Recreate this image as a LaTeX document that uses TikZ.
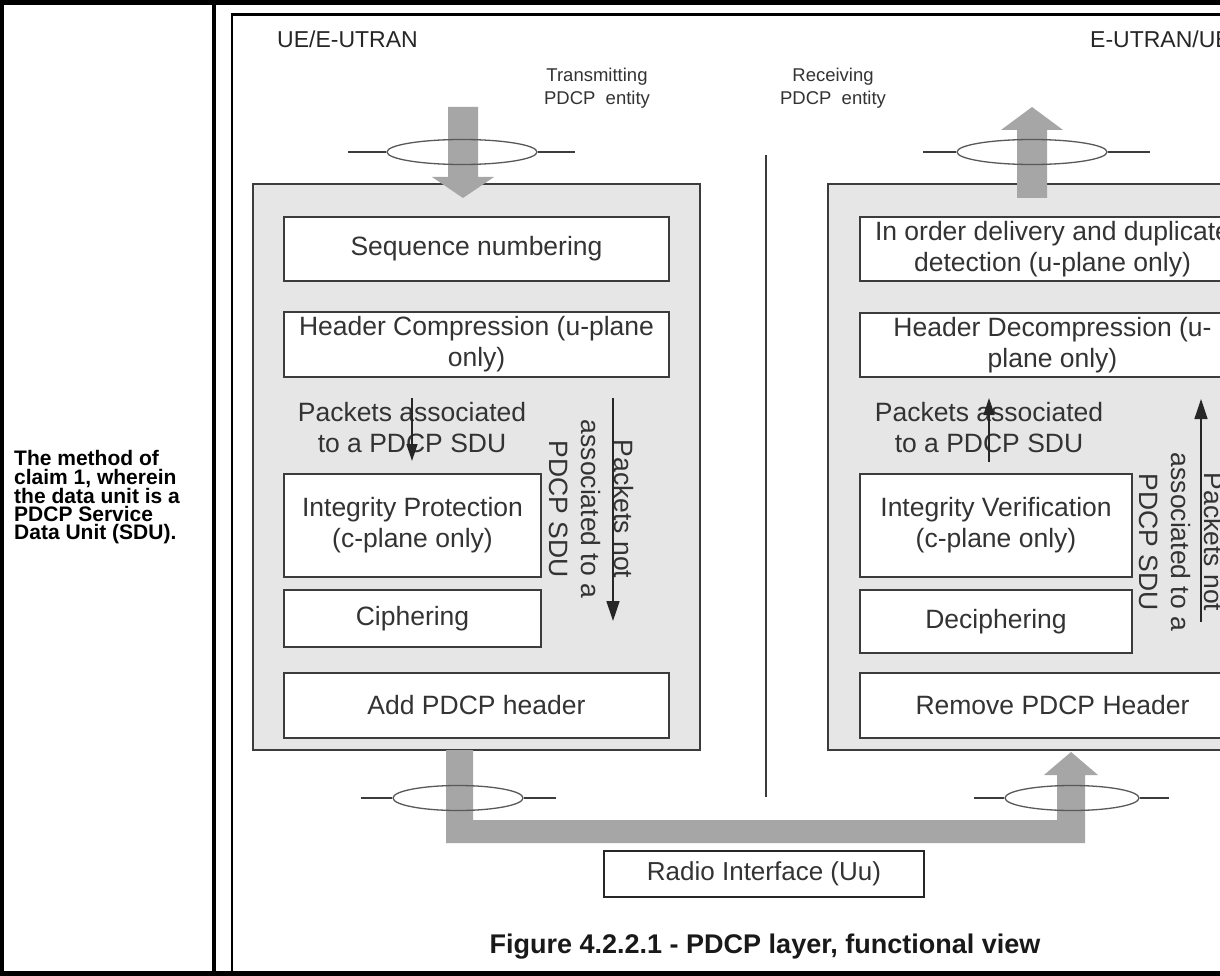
\documentclass[tikz,border=0pt]{standalone}
\usepackage{fontspec}
\setmainfont{Liberation Sans}
\usetikzlibrary{arrows.meta,shapes.geometric}
\definecolor{txt}{HTML}{333333}
\definecolor{edge}{HTML}{3C3C3C}
\definecolor{panel}{HTML}{E6E6E6}
\definecolor{flow}{HTML}{A6A6A6}
\begin{document}
\begin{tikzpicture}[x=1pt,y=-1pt,
  lbl/.style={text=txt, font=\fontsize{26.5}{31}\selectfont, align=center, inner sep=0pt},
  fbox/.style={lbl, draw=edge, line width=1.8pt, fill=white},
  panelbox/.style={draw=edge, line width=1.8pt, fill=panel, inner sep=0pt},
  flowshape/.style={fill=flow, draw=none},
  ring/.style={draw=edge!85, line width=1.3pt, ellipse, minimum width=#1, minimum height=25pt, inner sep=0pt},
  wire/.style={draw=edge, line width=1.3pt},
  thinarrow/.style={draw=black!85, line width=1.4pt, -{Triangle[length=17pt,width=11pt]}},
  bigarrow/.style={draw=black!85, line width=1.4pt, -{Triangle[length=20pt,width=13pt]}},
  small/.style={text=txt, font=\fontsize{18.5}{23}\selectfont, align=center, inner sep=0pt},
  head/.style={text=black!85, font=\fontsize{23}{26}\selectfont, inner sep=0pt},
  vlabel/.style={text=txt, font=\fontsize{26.5}{32.5}\selectfont, align=center, inner sep=0pt, rotate=-90},
  frame/.style={draw=black, line cap=rect}
]
\useasboundingbox (0,0) rectangle (1220,976);
\clip (0,0) rectangle (1220,976);
\fill[white] (0,0) rectangle (1220,976);

% outer table frame
\draw[frame, line width=5pt] (0,2.5) -- (1220,2.5);
\draw[frame, line width=5pt] (0,973.5) -- (1220,973.5);
\draw[frame, line width=4pt] (2,0) -- (2,976);
\draw[frame, line width=4.5pt] (214,0) -- (214,976);
\draw[frame, line width=2.5pt] (232,976) -- (232,14.5) -- (1220,14.5);

% claim text
\node[anchor=west, align=left, inner sep=0pt, font=\bfseries\fontsize{21}{18.2}\selectfont] (claim) at (14,497.5)
  {The method of\\claim 1, wherein\\the data unit is a\\PDCP Service\\Data Unit (SDU).};

% headings
\node[head, anchor=west] (ue) at (277,39) {UE/E-UTRAN};
\node[head, anchor=west] (eu) at (1090,39) {E-UTRAN/UE};
\node[small] (tx) at (597,88) {Transmitting\\PDCP~~entity};
\node[small] (rx) at (833,88) {Receiving\\PDCP~~entity};

% divider
\coordinate (dtop) at (766,155);
\coordinate (dbot) at (766,797);
\draw[wire] (dtop) -- (dbot);

% panels
\node[panelbox, minimum width=447pt, minimum height=566pt] (lp) at (476.5,467) {};
\node[panelbox, minimum width=447pt, minimum height=566pt] (rp) at (1051.5,467) {};

% flow arrows (gray)
\fill[flowshape] (448,107) -- (478,107) -- (478,177) -- (494,177) -- (463,198) -- (432,177) -- (448,177) -- cycle;
\fill[flowshape] (1017,198) -- (1047,198) -- (1047,130) -- (1063,130) -- (1032,107) -- (1001,130) -- (1017,130) -- cycle;
\fill[flowshape] (446,750) -- (446,843) -- (1085,843) -- (1085,775) -- (1098,775) -- (1071,752) -- (1044,775) -- (1057,775) -- (1057,820) -- (473,820) -- (473,750) -- cycle;

% rings
\node[ring=150pt] (r1) at (462,152) {};
\node[ring=150pt] (r2) at (1032,152) {};
\node[ring=130pt] (r3) at (458,798) {};
\node[ring=134pt] (r4) at (1072,798) {};
\coordinate (r1a) at (348,152); \coordinate (r1b) at (575,152);
\coordinate (r2a) at (923,152); \coordinate (r2b) at (1150,152);
\coordinate (r3a) at (361,798); \coordinate (r3b) at (556,798);
\coordinate (r4a) at (974,798); \coordinate (r4b) at (1169,798);
\draw[wire] (r1a) -- (r1.west); \draw[wire] (r1.east) -- (r1b);
\draw[wire] (r2a) -- (r2.west); \draw[wire] (r2.east) -- (r2b);
\draw[wire] (r3a) -- (r3.west); \draw[wire] (r3.east) -- (r3b);
\draw[wire] (r4a) -- (r4.west); \draw[wire] (r4.east) -- (r4b);

% transmitting side boxes
\node[fbox, minimum width=385pt, minimum height=64pt] (seq) at (476.5,249) {Sequence numbering};
\node[fbox, minimum width=385pt, minimum height=65pt] (hc) at (476.5,344.5) {Header Compression (u-plane\\only)};
\node[fbox, minimum width=257pt, minimum height=103pt] (ip) at (412.5,525.5) {Integrity Protection\\(c-plane only)};
\node[fbox, minimum width=257pt, minimum height=57pt] (ci) at (412.5,618.5) {Ciphering};
\node[fbox, minimum width=385pt, minimum height=65pt] (ah) at (476.5,705.5) {Add PDCP header};

% receiving side boxes
\node[fbox, minimum width=385pt, minimum height=64pt] (io) at (1052.5,249) {In order delivery and duplicate\\detection (u-plane only)};
\node[fbox, minimum width=385pt, minimum height=64pt] (hd) at (1052.5,345) {Header Decompression (u-\\plane only)};
\node[fbox, minimum width=272pt, minimum height=103pt] (iv) at (996,525.5) {Integrity Verification\\(c-plane only)};
\node[fbox, minimum width=272pt, minimum height=63pt] (de) at (996,621.5) {Deciphering};
\node[fbox, minimum width=385pt, minimum height=65pt] (rh) at (1052.5,705.5) {Remove PDCP Header};

% packets labels
\node[lbl] (pa1) at (412,428) {Packets associated\\to a PDCP SDU};
\node[lbl] (pa2) at (989,428) {Packets associated\\to a PDCP SDU};
\coordinate (s1a) at (412,398); \coordinate (s1b) at (412,461);
\coordinate (s2a) at (989,462); \coordinate (s2b) at (989,398);
\draw[thinarrow] (s1a) -- (s1b);
\draw[thinarrow] (s2a) -- (s2b);

\node[vlabel] (pn1) at (591,509) {Packets not\\associated to a\\PDCP SDU};
\node[vlabel] (pn2) at (1181,542) {Packets not\\associated to a\\PDCP SDU};
\coordinate (b1a) at (613,398); \coordinate (b1b) at (613,621);
\coordinate (b2a) at (1201,622); \coordinate (b2b) at (1201,399);
\draw[bigarrow] (b1a) -- (b1b);
\draw[bigarrow] (b2a) -- (b2b);

% radio interface
\node[fbox, draw=black!85, minimum width=320pt, minimum height=46pt, font=\fontsize{26}{30}\selectfont] (uu) at (764,874) {Radio Interface (Uu)};

% caption
\node[inner sep=0pt, text=black!90, font=\bfseries\fontsize{27}{30}\selectfont] (cap) at (765,947) {Figure 4.2.2.1 - PDCP layer, functional view};
\end{tikzpicture}
\end{document}
